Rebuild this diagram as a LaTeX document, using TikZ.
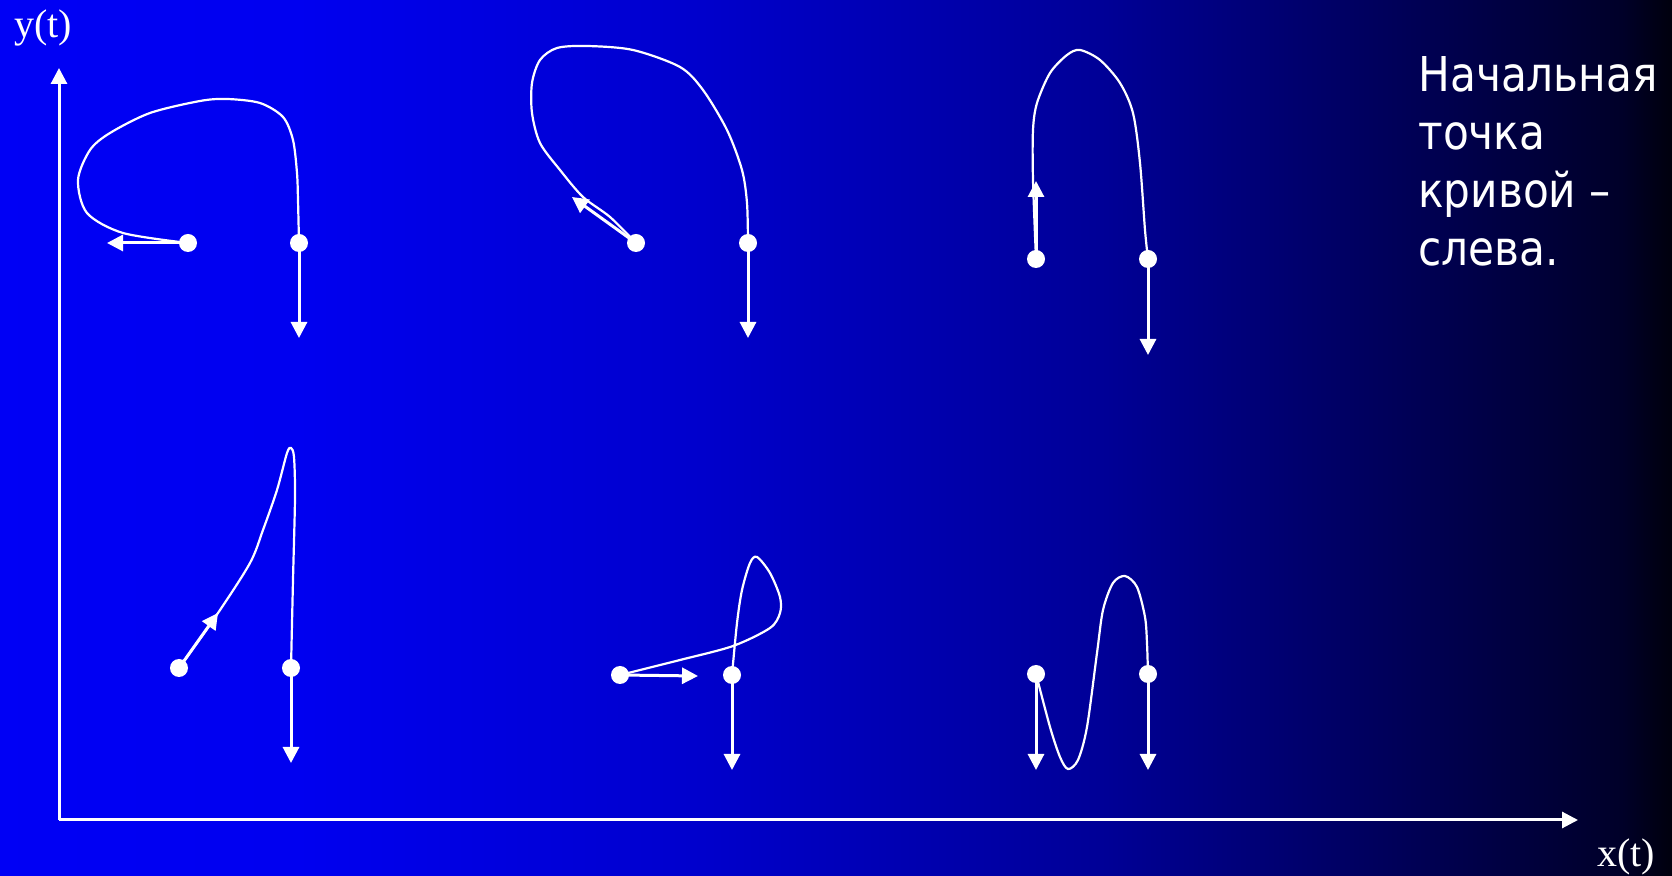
\documentclass[tikz,border=0pt]{standalone}
\usepackage{fontspec}
\setmainfont{Liberation Serif}
\newfontfamily\notefont[FakeStretch=0.88]{DejaVu Sans}
\usepackage{xcolor}
\definecolor{cLine}{HTML}{FFFFFF}
\usepackage{tikz}
\usetikzlibrary{arrows.meta}
\pgfdeclarehorizontalshading{bgfade}{100bp}{rgb(0bp)=(0,0,0.96); rgb(25bp)=(0,0,0.96);
  rgb(34bp)=(0,0,0.94); rgb(46bp)=(0,0,0.80); rgb(58bp)=(0,0,0.59);
  rgb(73.5bp)=(0,0,0.16); rgb(75bp)=(0,0,0.05); rgb(100bp)=(0,0,0.05)}
\tikzset{
  pt-dot/.style={circle,fill=cLine,inner sep=0pt,minimum size=9pt},
  arrow/.style={-{Triangle[length=8pt,width=8pt]},line width=1.5pt,draw=cLine},
  curve-line/.style={line width=1.1pt,draw=cLine},
  axis-label/.style={text=cLine,inner sep=0pt,font=\fontsize{20}{24}\selectfont},
  note/.style={text=cLine,inner sep=0pt,align=left,
    font=\notefont\fontsize{24}{29}\selectfont},
}

\begin{document}
\begin{tikzpicture}[x=0.5pt,y=-0.5pt]
  \shade[shading=bgfade] (0,0) rectangle (1672,876);
  \useasboundingbox (0,0) rectangle (1672,876);
  % axes
  \coordinate (o) at (59,820);
  \coordinate (ytip) at (59,68);
  \coordinate (xtip) at (1578,820);
  \draw[arrow] (o) -- (ytip);
  \draw[arrow] (o) -- (xtip);
  \node[axis-label] (ylab) at (43,28) {y(t)};
  \node[axis-label] (xlab) at (1626,857) {x(t)};
  % start / end points
  \node[pt-dot] (s1) at (188,243) {};
  \node[pt-dot] (e1) at (299,243) {};
  \node[pt-dot] (s2) at (636,243) {};
  \node[pt-dot] (e2) at (748,243) {};
  \node[pt-dot] (s3) at (1036,259) {};
  \node[pt-dot] (e3) at (1148,259) {};
  \node[pt-dot] (s4) at (179,668) {};
  \node[pt-dot] (e4) at (291,668) {};
  \node[pt-dot] (s5) at (620,675) {};
  \node[pt-dot] (e5) at (732,675) {};
  \node[pt-dot] (s6) at (1036,674) {};
  \node[pt-dot] (e6) at (1148,674) {};
  % curves
  \draw[curve-line] plot[smooth] coordinates {(s1.center) (123,233) (87,213) (78,180)
    (90,150) (110,133) (150,113) (200,101) (227,99) (260,103) (283,117) (293,140)
    (297,173) (298,200) (e1.center)};
  \draw[curve-line] plot[smooth] coordinates {(s2.center) (610,217) (583,197) (560,170)
    (540,143) (532,113) (532,83) (540,60) (557,48) (587,46) (633,50) (680,67)
    (703,90) (727,130) (742,170) (747,203) (e2.center)};
  \draw[curve-line] plot[smooth] coordinates {(s3.center) (1033,180) (1033,130)
    (1037,103) (1050,73) (1067,55) (1080,50) (1100,60) (1120,83) (1133,113)
    (1140,163) (1145,230) (e3.center)};
  \draw[curve-line] plot[smooth] coordinates {(s4.center) (218,613) (250,563)
    (263,530) (277,490) (287,453) (291,448) (294,457) (295,497) (293,580)
    (e4.center)};
  \draw[curve-line] plot[smooth] coordinates {(s5.center) (680,660) (733,646)
    (770,628) (780,613) (780,597) (770,573) (757,557) (750,563) (742,590)
    (737,623) (e5.center)};
  \draw[curve-line] plot[smooth] coordinates {(s6.center) (1050,727) (1060,757)
    (1068,769) (1078,760) (1087,727) (1097,653) (1103,610) (1113,583) (1125,576)
    (1137,587) (1145,617) (1147,643) (e6.center)};
  % tangent vectors
  \coordinate (a1) at (107,243);
  \coordinate (b1) at (299,338);
  \coordinate (a2) at (572,197);
  \coordinate (b2) at (748,338);
  \coordinate (a3) at (1036,181);
  \coordinate (b3) at (1148,355);
  \coordinate (a4) at (218,613);
  \coordinate (b4) at (291,763);
  \coordinate (a5) at (698,676);
  \coordinate (b5) at (732,770);
  \coordinate (a6) at (1036,770);
  \coordinate (b6) at (1148,770);
  \foreach \i in {1,...,6} {
    \draw[arrow] (s\i.center) -- (a\i);
    \draw[arrow] (e\i.center) -- (b\i);
  }
  \node[note,anchor=north west] (txt) at (1418,56)
    {Начальная\\точка\\кривой –\\слева.};
\end{tikzpicture}
\end{document}
